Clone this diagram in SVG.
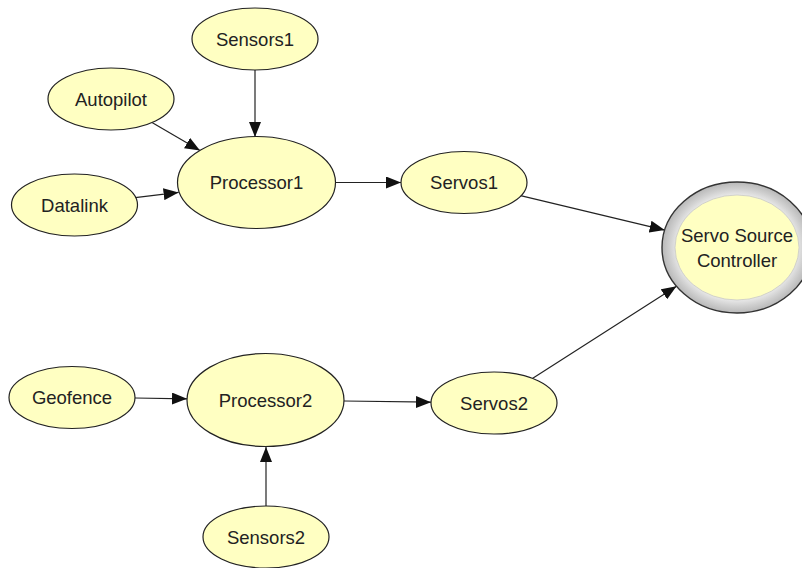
<svg xmlns="http://www.w3.org/2000/svg" width="802" height="568" viewBox="0 0 802 568">
<style>
.node ellipse.n{fill:#ffffc2;stroke:#222;stroke-width:1.2}
.node text{font-family:"Liberation Sans",Arial,sans-serif;font-size:18.5px;fill:#222;text-anchor:middle}
.edges line{stroke:#222;stroke-width:1.2;marker-end:url(#arrow)}
</style>
<defs>
<marker id="arrow" markerUnits="userSpaceOnUse" markerWidth="16" markerHeight="12" refX="15" refY="6" orient="auto">
<path d="M0,0 L15,6 L0,12 z" fill="#111"/>
</marker>
<radialGradient id="ring" cx="0.5" cy="0.5" r="0.5">
<stop offset="0.8" stop-color="#e8e8e8"/>
<stop offset="0.9" stop-color="#cfcfcf"/>
<stop offset="1" stop-color="#b8b8b8"/>
</radialGradient>
</defs>
<rect width="802" height="568" fill="#fff"/>
<g class="edges">
<line x1="255" y1="70" x2="255" y2="137"/>
<line x1="152" y1="122.6" x2="200" y2="150.6"/>
<line x1="135.2" y1="197.6" x2="178.6" y2="192.4"/>
<line x1="335.5" y1="182.5" x2="401" y2="182.5"/>
<line x1="520.6" y1="195.6" x2="664.7" y2="230.1"/>
<line x1="532.4" y1="378.4" x2="676.5" y2="286.2"/>
<line x1="135" y1="398" x2="187" y2="398.8"/>
<line x1="344" y1="401" x2="431" y2="402.2"/>
<line x1="266" y1="506" x2="266" y2="447"/>
</g>
<g id="sensors1" class="node"><ellipse class="n" cx="255" cy="39" rx="63" ry="31"/><text x="255" y="45.5">Sensors1</text></g>
<g id="autopilot" class="node"><ellipse class="n" cx="111" cy="99" rx="63" ry="31"/><text x="111" y="105.5">Autopilot</text></g>
<g id="datalink" class="node"><ellipse class="n" cx="74.5" cy="205" rx="63" ry="31"/><text x="74.5" y="211.5">Datalink</text></g>
<g id="processor1" class="node"><ellipse class="n" cx="256.5" cy="182.5" rx="79" ry="46"/><text x="256.5" y="189">Processor1</text></g>
<g id="servos1" class="node"><ellipse class="n" cx="464" cy="182.5" rx="63" ry="31"/><text x="464" y="189">Servos1</text></g>
<g id="servo-source-controller" class="node">
<ellipse cx="737" cy="247.5" rx="75" ry="65.5" fill="url(#ring)" stroke="#333" stroke-width="1.4"/>
<ellipse cx="737" cy="247.5" rx="62" ry="52.5" fill="#ffffc2" stroke="#c8c8c8" stroke-width="0.8"/>
<text x="737" y="241.5">Servo Source</text>
<text x="737" y="266.5">Controller</text>
</g>
<g id="geofence" class="node"><ellipse class="n" cx="72" cy="397.5" rx="63" ry="31"/><text x="72" y="404">Geofence</text></g>
<g id="processor2" class="node"><ellipse class="n" cx="265.5" cy="400" rx="78.5" ry="46.5"/><text x="265.5" y="406.5">Processor2</text></g>
<g id="servos2" class="node"><ellipse class="n" cx="494" cy="403" rx="63" ry="31"/><text x="494" y="409.5">Servos2</text></g>
<g id="sensors2" class="node"><ellipse class="n" cx="266" cy="537" rx="63" ry="31"/><text x="266" y="543.5">Sensors2</text></g>
</svg>
